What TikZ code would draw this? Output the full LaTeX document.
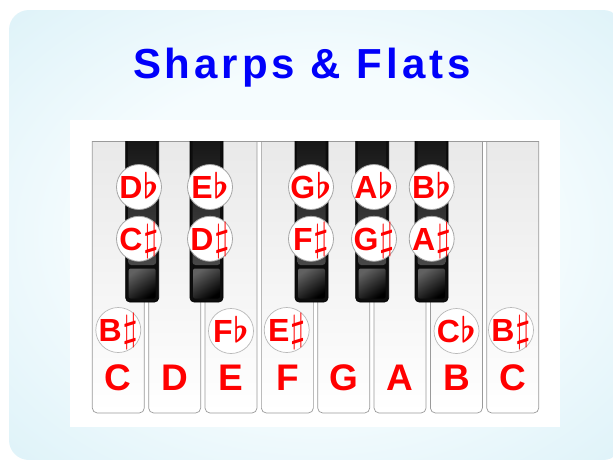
\documentclass[tikz,border=0pt]{standalone}
\usepackage{fontspec}
\setmainfont{Liberation Sans}
\usepackage{graphicx}
\usepackage{tikz}
\usetikzlibrary{positioning,calc}
\definecolor{skyedge}{HTML}{BCE4F0}
\definecolor{skycore}{HTML}{F5FCFE}
\definecolor{notered}{HTML}{FF0000}
\definecolor{titleblue}{HTML}{0000FA}
\definecolor{keyline}{HTML}{9A9A9A}
\pgfdeclareradialshading{skyglow}{\pgfpoint{0bp}{0bp}}{%
  color(0bp)=(skycore); color(18bp)=(skycore); color(62bp)=(skyedge)}
\newcommand{\flatsign}{\kern0.5pt\scalebox{3.5}{\fontsize{10}{10}\selectfont\boldmath$\flat$}}
\newcommand{\sharpsign}{\kern0.5pt\scalebox{4}{\fontsize{10}{10}\selectfont$\sharp$}}

\begin{document}
\begin{tikzpicture}[
    x=1pt,y=-1pt,
    node distance=6pt,
    whitekey/.style={draw=keyline,line width=0.7pt,top color=black!9,bottom color=white},
    blackkey/.style={draw=black,fill=black!95,line width=0.6pt},
    keytop/.style={top color=black!92,bottom color=black!72},
    keyfront/.style={top color=black!62,bottom color=black,shading angle=35},
    note/.style={text=notered,anchor=base,font=\fontsize{37}{37}\selectfont\bfseries},
    acc/.style={circle,fill=white,minimum size=45pt,inner sep=-2pt,text=notered,
                font=\fontsize{32}{32}\selectfont\bfseries,text height=22.5pt,text depth=0pt},
    blackacc/.style={acc,draw=black!35,line width=0.8pt},
    whiteacc/.style={acc,draw=black!28,line width=0.7pt},
    title/.style={text=titleblue,anchor=base,
                  font=\fontsize{42}{42}\selectfont\bfseries\addfontfeature{LetterSpace=9.5}}
  ]
  \useasboundingbox (0,0) rectangle (613,459);
  \fill[white] (0,0) rectangle (613,459);
  % backdrop and panel
  \shade[shading=skyglow,rounded corners=20pt] (9,10) rectangle (623,460);
  \fill[white] (70,120) rectangle (560,427);
  \node[title] (title) at (302,78) {Sharps \& Flats};
  % white keys
  \foreach \i in {0,...,7} {
    \pgfmathsetmacro\kx{92.3+56.35*\i}
    \begin{scope}
      \clip (\kx-1,141) rectangle (\kx+53,415);
      \draw[whitekey,rounded corners=5pt] (\kx,130) rectangle (\kx+52,413);
    \end{scope}
  }
  \draw[keyline,line width=0.7pt] (92.3,141) -- (538.8,141);
  % black keys
  \foreach \bx in {125.7,190,295,355.7,415} {
    \begin{scope}
      \clip (\bx-1,141) rectangle (\bx+34,303);
      \draw[blackkey,rounded corners=4pt] (\bx,135) rectangle (\bx+33,302);
      \shade[keytop,rounded corners=3pt] (\bx+2.5,135) rectangle (\bx+30.5,265);
      \shade[keyfront,rounded corners=2pt] (\bx+3,268.5) rectangle (\bx+30,298.5);
    \end{scope}
  }
  % flats and sharps on the black keys
  \node[blackacc] (db) at (139,187) {D\flatsign};
  \node[blackacc] (eb) at (210,187) {E\flatsign};
  \node[blackacc] (gb) at (311,187) {G\flatsign};
  \node[blackacc] (ab) at (374,187) {A\flatsign};
  \node[blackacc] (bb) at (431.7,187) {B\flatsign};
  \node[blackacc,below=of db] (cs) {C\sharpsign};
  \node[blackacc,below=of eb] (ds) {D\sharpsign};
  \node[blackacc,below=of gb] (fs) {F\sharpsign};
  \node[blackacc,below=of ab] (gs) {G\sharpsign};
  \node[blackacc,below=of bb] (as) {A\sharpsign};
  % enharmonics on the white keys
  \node[whiteacc] (bsl) at (118.3,330) {B\sharpsign};
  \node[whiteacc] (fb) at (231,331) {F\flatsign};
  \node[whiteacc] (es) at (286.7,330) {E\sharpsign};
  \node[whiteacc] (cb) at (456.5,331) {C\flatsign};
  \node[whiteacc] (bsr) at (511,330) {B\sharpsign};
  % natural names
  \foreach \i/\n in {0/C,1/D,2/E,3/F,4/G,5/A,6/B,7/C}
    \node[note] (n\i) at (118.3+56.35*\i,390) {\n};
\end{tikzpicture}
\end{document}
